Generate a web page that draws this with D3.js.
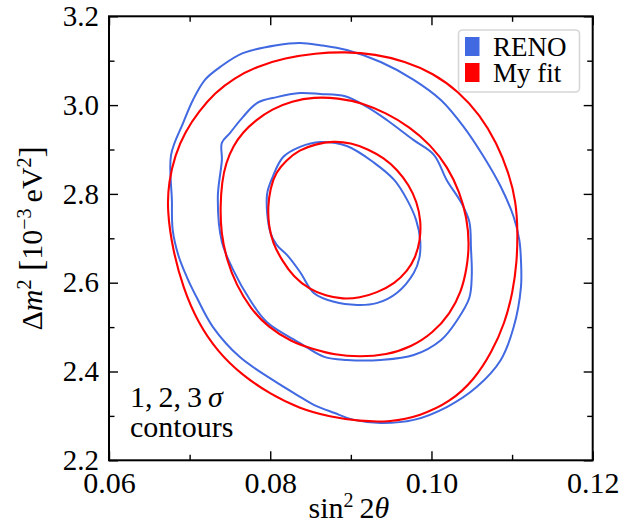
<!DOCTYPE html>
<html>
<head>
<meta charset="utf-8">
<script src="https://cdn.jsdelivr.net/npm/d3@7"></script>
<style>
  body { margin: 0; background: #fff; }
  svg text { font-family: "Liberation Serif", "DejaVu Serif", serif; fill: #000; }
</style>
</head>
<body>
<div id="chart"><svg></svg></div>
<script>
// chart size & plot box
var width = 634;
var height = 529;
var margins = { left: 109, top: 16.3, right: 41.3, bottom: 68.7 };

// tick values
var xTicks = [0.06, 0.08, 0.10, 0.12];
var xMinor = [0.07, 0.09, 0.11];
var yTicks = [2.2, 2.4, 2.6, 2.8, 3.0, 3.2];
var yMinor = [2.3, 2.5, 2.7, 2.9, 3.1];

var legendLabels = ["RENO", "My fit"];
var seriesColors = ["#4169e1", "#ff0000"];

// RENO contours (1, 2, 3 sigma)
var reno1 = [
  [0.0796, 2.798], [0.0803, 2.838], [0.0816, 2.883], [0.0837, 2.906], [0.0862, 2.917],
  [0.0895, 2.908], [0.0929, 2.870], [0.0954, 2.831], [0.0970, 2.786], [0.0981, 2.741],
  [0.0986, 2.696], [0.0985, 2.656], [0.0978, 2.622], [0.0957, 2.577], [0.0932, 2.554],
  [0.0908, 2.550], [0.0879, 2.557], [0.0854, 2.577], [0.0837, 2.624], [0.0821, 2.662],
  [0.0808, 2.685], [0.0800, 2.714]
];
var reno2 = [
  [0.0735, 2.793], [0.0740, 2.876], [0.0740, 2.915], [0.0750, 2.937], [0.0766, 2.973],
  [0.0784, 3.005], [0.0808, 3.018], [0.0837, 3.027], [0.0862, 3.025], [0.0893, 3.020],
  [0.0920, 2.996], [0.0945, 2.966], [0.0978, 2.921], [0.1003, 2.888], [0.1019, 2.831],
  [0.1037, 2.780], [0.1047, 2.737], [0.1049, 2.678], [0.1050, 2.617], [0.1047, 2.566],
  [0.1032, 2.516], [0.1012, 2.471], [0.0978, 2.437], [0.0937, 2.426], [0.0895, 2.426],
  [0.0867, 2.433], [0.0837, 2.464], [0.0796, 2.511], [0.0775, 2.561], [0.0754, 2.629],
  [0.0740, 2.692]
];
var reno3 = [
  [0.0677, 2.888], [0.0678, 2.786], [0.0679, 2.719], [0.0686, 2.662], [0.0697, 2.611],
  [0.0709, 2.566], [0.0729, 2.500], [0.0762, 2.433], [0.0803, 2.381], [0.0837, 2.343],
  [0.0854, 2.325], [0.0879, 2.307], [0.0904, 2.291], [0.0937, 2.284], [0.0978, 2.291],
  [0.1019, 2.320], [0.1056, 2.365], [0.1086, 2.426], [0.1102, 2.500], [0.1111, 2.590],
  [0.1111, 2.651], [0.1109, 2.696], [0.1102, 2.748], [0.1086, 2.816], [0.1065, 2.883],
  [0.1040, 2.951], [0.1012, 3.011], [0.0978, 3.057], [0.0937, 3.097], [0.0895, 3.124],
  [0.0862, 3.135], [0.0837, 3.140], [0.0808, 3.135], [0.0766, 3.117], [0.0738, 3.086],
  [0.0719, 3.057], [0.0704, 3.011], [0.0692, 2.960]
];

// my fit contours (1, 2, 3 sigma)
var fit1 = [
  [0.0797, 2.770], [0.0800, 2.813], [0.0807, 2.849], [0.0820, 2.876], [0.0836, 2.899],
  [0.0856, 2.912], [0.0878, 2.919], [0.0900, 2.915], [0.0921, 2.901], [0.0941, 2.881],
  [0.0958, 2.854], [0.0972, 2.820], [0.0982, 2.782], [0.0987, 2.739], [0.0986, 2.694],
  [0.0980, 2.656], [0.0970, 2.626], [0.0955, 2.599], [0.0932, 2.577], [0.0911, 2.566],
  [0.0890, 2.563], [0.0869, 2.570], [0.0848, 2.586], [0.0829, 2.613], [0.0815, 2.649],
  [0.0803, 2.689], [0.0798, 2.730]
];
var fit2 = [
  [0.0738, 2.770], [0.0740, 2.827], [0.0745, 2.870], [0.0754, 2.908], [0.0766, 2.939],
  [0.0782, 2.966], [0.0802, 2.991], [0.0827, 3.009], [0.0854, 3.018], [0.0884, 3.016],
  [0.0914, 3.005], [0.0944, 2.982], [0.0973, 2.951], [0.0999, 2.910], [0.1020, 2.861],
  [0.1035, 2.804], [0.1044, 2.746], [0.1047, 2.687], [0.1044, 2.633], [0.1037, 2.579],
  [0.1023, 2.530], [0.1002, 2.487], [0.0975, 2.455], [0.0944, 2.437], [0.0911, 2.433],
  [0.0880, 2.437], [0.0852, 2.451], [0.0827, 2.466], [0.0797, 2.500], [0.0775, 2.543],
  [0.0758, 2.595], [0.0746, 2.651], [0.0739, 2.712]
];
var fit3 = [
  [0.0672, 2.764], [0.0674, 2.827], [0.0682, 2.888], [0.0694, 2.939], [0.0712, 2.987],
  [0.0731, 3.027], [0.0755, 3.061], [0.0785, 3.088], [0.0818, 3.106], [0.0856, 3.117],
  [0.0893, 3.120], [0.0930, 3.115], [0.0967, 3.099], [0.1002, 3.072], [0.1034, 3.030],
  [0.1060, 2.978], [0.1081, 2.915], [0.1096, 2.847], [0.1105, 2.782], [0.1107, 2.714],
  [0.1106, 2.647], [0.1101, 2.579], [0.1091, 2.509], [0.1075, 2.444], [0.1053, 2.381],
  [0.1023, 2.331], [0.0986, 2.300], [0.0949, 2.286], [0.0911, 2.288], [0.0874, 2.298],
  [0.0837, 2.316], [0.0800, 2.349], [0.0765, 2.392], [0.0735, 2.444], [0.0710, 2.511],
  [0.0692, 2.588], [0.0679, 2.674]
];

var renoContours = [reno1, reno2, reno3];
var fitContours = [fit1, fit2, fit3];

var svg = d3.select("#chart").select("svg")
    .attr("width", width)
    .attr("height", height);

var xscale = d3.scaleLinear()
    .domain([0.06, 0.12])
    .range([margins.left, width - margins.right]);
var yscale = d3.scaleLinear()
    .domain([2.2, 3.2])
    .range([height - margins.bottom, margins.top]);

var major = 9, minor = 5.5;
var plotBottom = height - margins.bottom;
var plotRight = width - margins.right;

function drawAxis(axis, tx, ty, fontSize) {
  var g = svg.append("g")
      .attr("transform", "translate(" + tx + "," + ty + ")")
      .call(axis);
  g.select(".domain").remove();
  g.selectAll(".tick line").attr("stroke", "#000").attr("stroke-width", 1.4);
  g.selectAll(".tick text")
      .style("font-family", "'Liberation Serif', serif")
      .attr("font-size", fontSize || 30)
      .attr("fill", "#000");
  return g;
}

// bottom & left with labels
drawAxis(d3.axisBottom(xscale).tickValues(xTicks).tickSize(-major).tickPadding(11).tickFormat(d3.format(".2f")), 0, plotBottom);
drawAxis(d3.axisLeft(yscale).tickValues(yTicks).tickSize(-major).tickPadding(10).tickFormat(d3.format(".1f")), margins.left, 0, 29);
// minor ticks
drawAxis(d3.axisBottom(xscale).tickValues(xMinor).tickSize(-minor).tickFormat(""), 0, plotBottom);
drawAxis(d3.axisLeft(yscale).tickValues(yMinor).tickSize(-minor).tickFormat(""), margins.left, 0);
// top & right mirrored ticks
drawAxis(d3.axisTop(xscale).tickValues(xTicks).tickSize(-major).tickFormat(""), 0, margins.top);
drawAxis(d3.axisTop(xscale).tickValues(xMinor).tickSize(-minor).tickFormat(""), 0, margins.top);
drawAxis(d3.axisRight(yscale).tickValues(yTicks).tickSize(-major).tickFormat(""), plotRight, 0);
drawAxis(d3.axisRight(yscale).tickValues(yMinor).tickSize(-minor).tickFormat(""), plotRight, 0);

// contours: RENO a bit angular, fit smooth
var renoLine = d3.line()
    .x(function(d) { return xscale(d[0]); })
    .y(function(d) { return yscale(d[1]); })
    .curve(d3.curveCatmullRomClosed.alpha(0.5));
var fitLine = d3.line()
    .x(function(d) { return xscale(d[0]); })
    .y(function(d) { return yscale(d[1]); })
    .curve(d3.curveBasisClosed);

svg.append("g").selectAll("path.reno")
    .data(renoContours)
  .enter().append("path")
    .attr("class", "reno")
    .attr("d", renoLine)
    .attr("fill", "none")
    .attr("stroke", seriesColors[0])
    .attr("stroke-width", 2)
    .attr("stroke-linejoin", "round");

svg.append("g").selectAll("path.fit")
    .data(fitContours)
  .enter().append("path")
    .attr("class", "fit")
    .attr("d", fitLine)
    .attr("fill", "none")
    .attr("stroke", seriesColors[1])
    .attr("stroke-width", 2.1);

// frame
svg.append("rect")
    .attr("x", margins.left)
    .attr("y", margins.top)
    .attr("width", plotRight - margins.left)
    .attr("height", plotBottom - margins.top)
    .attr("fill", "none")
    .attr("stroke", "#000")
    .attr("stroke-width", 2);

// legend
var legend = svg.append("g");
legend.append("rect")
    .attr("x", 458.5).attr("y", 30)
    .attr("width", 121).attr("height", 62)
    .attr("rx", 4)
    .attr("fill", "#fff").attr("fill-opacity", 0.8)
    .attr("stroke", "#d6d6d6").attr("stroke-width", 1.6);
legendLabels.forEach(function(lab, i) {
  legend.append("rect")
      .attr("x", 465).attr("y", 37 + i * 26)
      .attr("width", 14.5).attr("height", 19)
      .attr("fill", seriesColors[i]);
  legend.append("text")
      .attr("x", 493).attr("y", 55.5 + i * 26)
      .attr("font-size", 27)
      .text(lab);
});

// annotation
var ann = svg.append("text").attr("x", 130).attr("y", 407).attr("font-size", 30);
ann.append("tspan").text("1,\u20092,\u20093\u2009");
ann.append("tspan").attr("font-style", "italic").text("σ");
svg.append("text").attr("x", 130).attr("y", 437).attr("font-size", 30).text("contours");

// x label
var xl = svg.append("text")
    .attr("x", (margins.left + plotRight) / 2 - 2)
    .attr("y", 518)
    .attr("text-anchor", "middle")
    .attr("font-size", 30);
xl.append("tspan").text("sin");
xl.append("tspan").attr("font-size", 20).attr("dy", -11).text("2");
xl.append("tspan").attr("dy", 11).text("\u20092");
xl.append("tspan").attr("font-style", "italic").text("θ");

// y label
var yl = svg.append("text")
    .attr("transform", "translate(42," + ((margins.top + plotBottom) / 2) + ") rotate(-90)")
    .attr("text-anchor", "middle")
    .attr("font-size", 30);
yl.append("tspan").text("Δ");
yl.append("tspan").attr("font-style", "italic").text("m");
yl.append("tspan").attr("font-size", 20).attr("dy", -11).text("2");
yl.append("tspan").attr("dy", 11).attr("font-size", 34).text(" [");
yl.append("tspan").attr("font-size", 30).text("10");
yl.append("tspan").attr("font-size", 20).attr("dy", -11).text("−3");
yl.append("tspan").attr("dy", 11).attr("font-size", 30).text("\u2009eV");
yl.append("tspan").attr("font-size", 20).attr("dy", -11).text("2");
yl.append("tspan").attr("dy", 11).attr("font-size", 34).text("]");
</script>
</body>
</html>
